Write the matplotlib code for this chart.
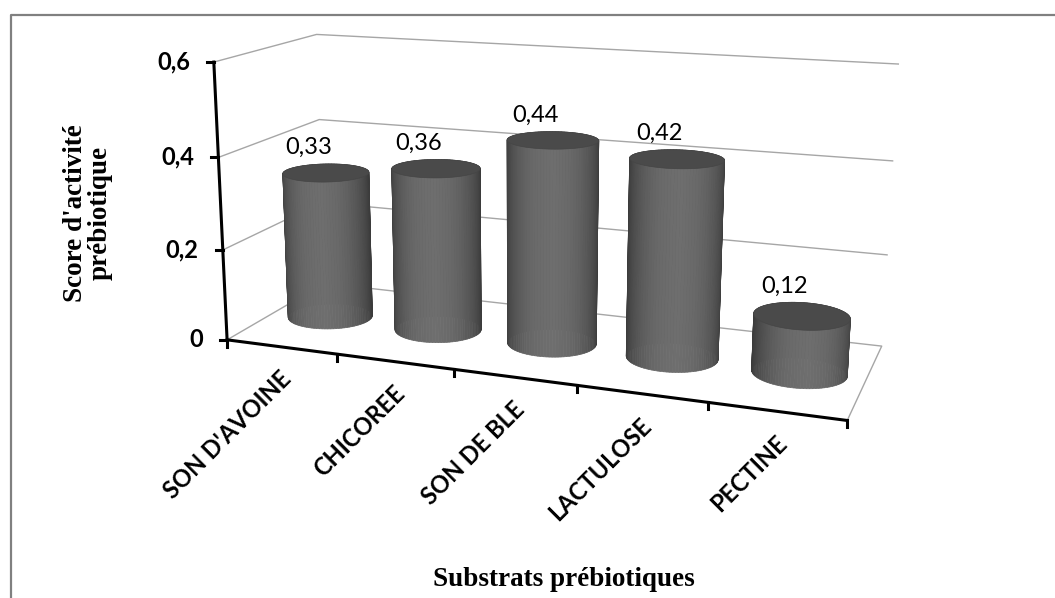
import numpy as np
import matplotlib
matplotlib.use("Agg")
import matplotlib.pyplot as plt
from matplotlib.patches import Polygon

# chart data
categories = ["SON D'AVOINE", "CHICOREE", "SON DE BLE", "LACTULOSE", "PECTINE"]
scores = [0.33, 0.36, 0.44, 0.42, 0.12]
score_labels = ["0,33", "0,36", "0,44", "0,42", "0,12"]
value_ticks = [0, 0.2, 0.4, 0.6]
value_tick_labels = ["0", "0,2", "0,4", "0,6"]

W, H = 1055, 598
SANS = ["Lato", "DejaVu Sans"]
SERIF = ["Liberation Serif", "DejaVu Serif"]

# the 3D box: (category, depth, value) -> pixel, used to fit a perspective camera
box_world = [(0, 0, 0), (0, 0, 0.2), (0, 0, 0.4), (0, 0, 0.6),
             (1, 0, 0), (2, 0, 0), (3, 0, 0), (4, 0, 0), (5, 0, 0),
             (0, 1, 0), (0, 1, 0.4), (0, 1, 0.6),
             (5, 1, 0), (5, 1, 0.2), (5, 1, 0.4), (5, 1, 0.6)]
box_pixel = [(228, 338), (223, 250), (218, 157), (213, 62),
             (338, 355), (453, 369), (577, 387), (708, 404), (847, 419),
             (323, 284), (320, 119), (317, 35),
             (882, 345), (887, 255), (893, 161), (898, 64)]


def fit_camera(world, pixel):
    rows, rhs = [], []
    for (X, Y, Z), (u, v) in zip(world, pixel):
        rows.append([X, Y, Z, 1, 0, 0, 0, 0, -u * X, -u * Y, -u * Z])
        rhs.append(u)
        rows.append([0, 0, 0, 0, X, Y, Z, 1, -v * X, -v * Y, -v * Z])
        rhs.append(v)
    p, *_ = np.linalg.lstsq(np.array(rows, float), np.array(rhs, float), rcond=None)
    return np.append(p, 1.0).reshape(3, 4)


P = fit_camera(box_world, box_pixel)


def proj(X, Y, Z):
    X, Y, Z = np.broadcast_arrays(np.asarray(X, float), np.asarray(Y, float), np.asarray(Z, float))
    pts = np.stack([X, Y, Z, np.ones_like(X)], axis=-1) @ P.T
    return pts[..., 0] / pts[..., 2], pts[..., 1] / pts[..., 2]


def line3d(ax, pts, **kw):
    pts = np.array(pts, float)
    u, v = proj(pts[:, 0], pts[:, 1], pts[:, 2])
    ax.plot(u, v, **kw)


def shade(t):
    # simple lambert light coming from slightly right of the viewer
    b = max(0.0, np.cos(t - (-np.pi / 2 + 0.3))) ** 1.3
    g = 0.23 + 0.20 * b
    return (g, g, g)


def draw_cylinder(ax, cx, cy, h, rx=0.36, ry=0.2, n=96):
    t = np.linspace(-np.pi, np.pi, n + 1)
    xs = cx + rx * np.cos(t)
    ys = cy + ry * np.sin(t)
    bu, bv = proj(xs, ys, 0.0)
    tu, tv = proj(xs, ys, h)
    mids = (t[:-1] + t[1:]) / 2
    for k in np.argsort(-np.sin(mids)):
        quad = [(bu[k], bv[k]), (bu[k + 1], bv[k + 1]), (tu[k + 1], tv[k + 1]), (tu[k], tv[k])]
        c = shade(mids[k])
        ax.add_patch(Polygon(quad, closed=True, fc=c, ec=c, lw=0.5, zorder=3))
    ax.add_patch(Polygon(np.column_stack([tu, tv]), closed=True, fc="#4a4a4a",
                         ec="#464646", lw=0.5, zorder=4))


fig = plt.figure(figsize=(W / 100, H / 100), dpi=100)
ax = fig.add_axes([0, 0, 1, 1])
ax.set_xlim(0, W)
ax.set_ylim(H, 0)
ax.axis("off")

# outer frame (left + top only)
ax.plot([11, 11, W], [H, 15, 15], color="#808080", lw=1.6, zorder=1)

n = len(categories)
grid_kw = dict(color="#a6a6a6", lw=1.0, zorder=1)
for z in value_ticks[1:]:
    line3d(ax, [(0, 0, z), (0, 1, z), (n, 1, z)], **grid_kw)
line3d(ax, [(0, 0, 0), (0, 1, 0), (n, 1, 0), (n, 0, 0)], **grid_kw)

for i, v in enumerate(scores):
    draw_cylinder(ax, i + 0.5, 0.5, v)
    cu, _ = proj(i + 0.5, 0.5, v)
    _, top = proj(i + 0.5, 0.7, v)
    ax.text(cu - 17, top - 17, score_labels[i], ha="center", va="center",
            fontsize=17, family=SANS, color="black", zorder=5)

# value axis
line3d(ax, [(0, 0, 0), (0, 0, value_ticks[-1])], color="black", lw=2.2, zorder=5)
for z, lab in zip(value_ticks, value_tick_labels):
    u, v = proj(0, 0, z)
    ax.plot([u - 7, u], [v, v], color="black", lw=2.2, zorder=5)
    ax.text(u - 24, v, lab, ha="right", va="center", fontsize=17, fontweight="bold",
            family=SANS, zorder=5)

# category axis
line3d(ax, [(0, 0, 0), (n, 0, 0)], color="black", lw=2.2, zorder=5)
for i in range(n + 1):
    u, v = proj(i, 0, 0)
    ax.plot([u, u], [v, v + 7], color="black", lw=2.2, zorder=5)
for i, cat in enumerate(categories):
    u, v = proj(i + 0.5, 0, 0)
    ax.text(u - 2, v + 20, cat, rotation=45, rotation_mode="anchor", ha="right", va="top",
            fontsize=17, fontweight="bold", family=SANS, zorder=5)

ax.text(88, 213, "Score d'activité\nprébiotique", rotation=90, ha="center", va="center",
        multialignment="center", linespacing=1.0, fontsize=19.5, fontweight="bold", family=SERIF)
ax.text(564, 580, "Substrats prébiotiques", ha="center", va="center",
        fontsize=19.5, fontweight="bold", family=SERIF)

fig.savefig("out.png", dpi=100)
